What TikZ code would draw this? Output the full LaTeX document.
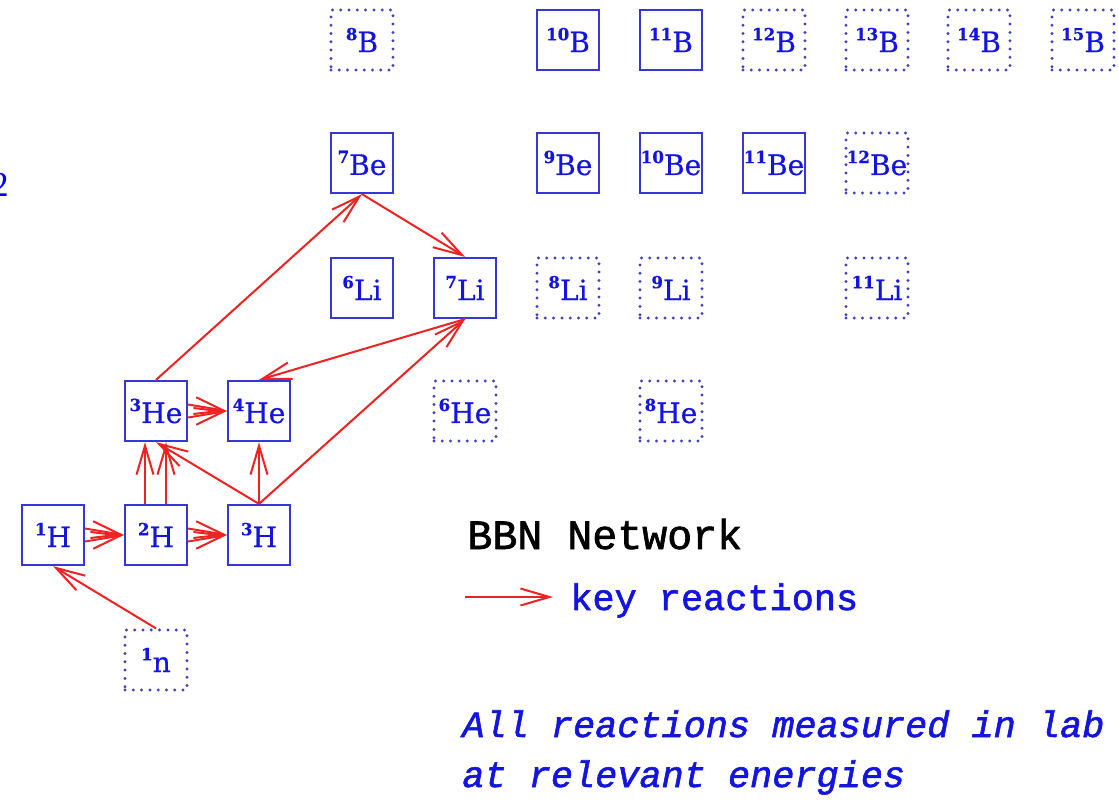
\documentclass[tikz,border=0pt]{standalone}
\usepackage{fontspec}
\usepackage{tikz}
\usetikzlibrary{arrows.meta}
\setmainfont{DejaVu Serif}[FakeBold=0.5]
\newfontfamily\legendfont{Liberation Mono}[FakeBold=1.6]
\newfontfamily\notefont{Liberation Mono Italic}[FakeBold=1.6]
\newfontfamily\linkfont{Liberation Serif}
\definecolor{box_blue}{RGB}{55,55,215}
\definecolor{dot_blue}{RGB}{65,65,185}
\definecolor{text_blue}{RGB}{20,20,225}
\definecolor{link_blue}{RGB}{0,0,238}
\definecolor{rxn_red}{RGB}{238,34,34}
\newcommand{\nuc}[2]{\raisebox{6.8pt}{\fontsize{9.5}{9.5}\selectfont\bfseries #1}#2}

\begin{document}
\begin{tikzpicture}[x=0.02cm,y=-0.02cm,
	stable/.style={draw=box_blue,line width=0.045cm,minimum width=1.24cm,minimum height=1.2cm,inner sep=0pt,text=text_blue,font=\fontsize{16}{19}\selectfont},
	unstable/.style={stable,draw=dot_blue,line width=0.065cm,dash pattern=on 0pt off 0.166cm,line cap=round},
	rxn/.style={draw=rxn_red,line width=0.04cm,-{Straight Barb[length=0.58cm,width=0.34cm]}}]
	\useasboundingbox (0,0) rectangle (1118,801);
	\node[anchor=base east,inner sep=0pt,text=link_blue,font=\linkfont\fontsize{20}{20}\selectfont] (pagenum) at (9,196) {2};

	% measured nuclei
	\foreach \name/\x/\y/\A/\el in {h1/53/535/1/H,h2/156/535/2/H,h3/259/535/3/H,he3/156/411/3/He,he4/259/411/4/He,li6/362/288/6/Li,li7/465/288/7/Li,be7/362/163/7/Be,be9/568/163/9/Be,be10/671/163/10/Be,be11/774/163/11/Be,b10/568/40/10/B,b11/671/40/11/B}
		\node[stable] (\name) at (\x,\y) {\nuc{\A}{\el}};
	% short-lived nuclei
	\foreach \name/\x/\y/\A/\el in {n1/156/660/1/n,he6/465/411/6/He,he8/671/411/8/He,li8/568/288/8/Li,li9/671/288/9/Li,li11/877/288/11/Li,be12/877/163/12/Be,b8/362/40/8/B,b12/774/40/12/B,b13/877/40/13/B,b14/979/40/14/B,b15/1083/40/15/B}
		\node[unstable] (\name) at (\x,\y) {\nuc{\A}{\el}};

	\foreach \x/\y in {n1.north/h1.south,h3.north/he3.south,h3.north/he4.south,h3.north/li7.south,he3.north/be7.south,be7.south/li7.north,li7.south/he4.north}
		\draw[rxn] (\x) -- (\y);
	\foreach \x/\y in {h1/h2,h2/h3,he3/he4}
	{
		\draw[rxn] ([yshift=-0.13cm]\x.east) -- (\y.west);
		\draw[rxn] ([yshift=0.13cm]\x.east) -- (\y.west);
	}
	\foreach \s in {-0.22cm,0.2cm}
		\draw[rxn] ([xshift=\s]h2.north) -- ([xshift=\s]he3.south);

	% legend
	\node[anchor=base west,inner sep=0pt,font=\legendfont\fontsize{23.7}{28}\selectfont] (title) at (467,549) {BBN Network};
	\node[anchor=base west,inner xsep=0.34cm,inner ysep=0pt,text=text_blue,font=\legendfont\fontsize{21}{25}\selectfont] (keytxt) at (553,610) {key reactions};
	\coordinate (keyA) at (465,597);
	\draw[rxn] (keyA) -- (keytxt.west |- keyA);
	\node[anchor=base west,inner sep=0pt,text=text_blue,font=\notefont\fontsize{21}{25}\selectfont] (note1) at (462,737) {All reactions measured in lab};
	\node[anchor=base west,inner sep=0pt,text=text_blue,font=\notefont\fontsize{21}{25}\selectfont] (note2) at (462,787) {at relevant energies};
\end{tikzpicture}
\end{document}
